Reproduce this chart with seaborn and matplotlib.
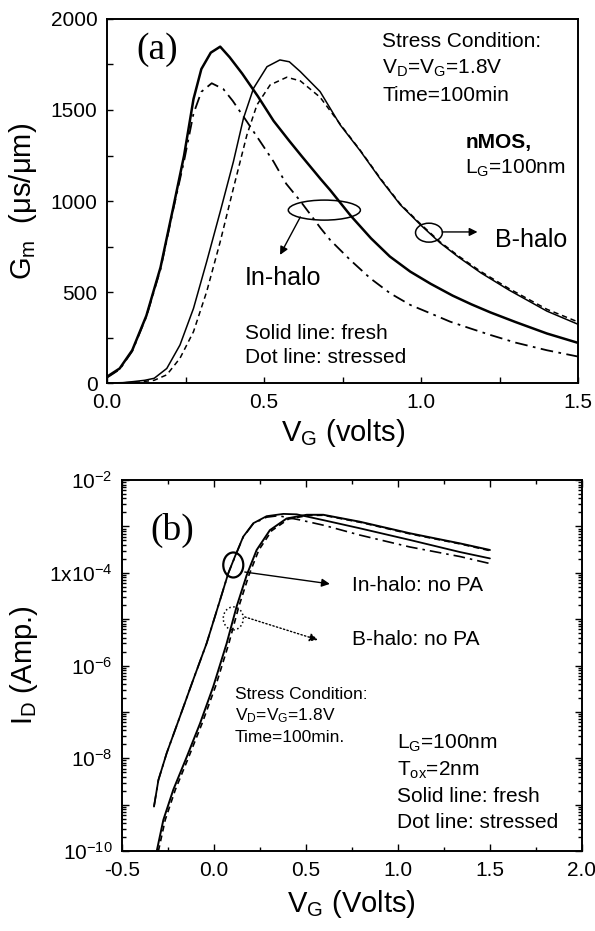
import numpy as np
import pandas as pd
import matplotlib
matplotlib.use("Agg")
import matplotlib.pyplot as plt
import seaborn as sns
from matplotlib.patches import Ellipse
from matplotlib.ticker import MultipleLocator, LogLocator, NullFormatter, FuncFormatter

# ---------------- Panel (a): Gm vs VG ----------------
vg_in_fresh = [0.0, 0.04, 0.08, 0.125, 0.17, 0.21, 0.245, 0.275, 0.3, 0.33, 0.36, 0.39, 0.43, 0.48,
               0.53, 0.58, 0.62, 0.68, 0.71, 0.775, 0.84, 0.9, 0.965, 1.03, 1.1, 1.16, 1.22, 1.3, 1.4, 1.5]
gm_in_fresh = [35, 80, 180, 370, 635, 960, 1250, 1560, 1725, 1815, 1848, 1790, 1700, 1575,
               1440, 1330, 1245, 1120, 1060, 920, 795, 695, 612, 545, 480, 432, 388, 335, 272, 220]

vg_in_stress = [0.0, 0.04, 0.08, 0.125, 0.17, 0.21, 0.245, 0.275, 0.3, 0.333, 0.37, 0.4, 0.445, 0.49,
                0.53, 0.57, 0.615, 0.68, 0.71, 0.774, 0.838, 0.901, 0.965, 1.029, 1.092, 1.156, 1.22,
                1.3, 1.4, 1.5]
gm_in_stress = [30, 75, 175, 365, 625, 950, 1220, 1480, 1600, 1647, 1615, 1550, 1436, 1320,
                1216, 1095, 1000, 850, 786, 676, 575, 493, 429, 383, 337, 300, 264,
                222, 180, 145]

vg_b_fresh = [0.0, 0.05, 0.085, 0.12, 0.15, 0.19, 0.232, 0.275, 0.317, 0.36, 0.402, 0.434, 0.466, 0.509,
              0.55, 0.58, 0.615, 0.678, 0.742, 0.806, 0.87, 0.933, 1.0, 1.06, 1.12, 1.19, 1.28, 1.4, 1.5]
gm_b_fresh = [0, 2, 8, 15, 26, 80, 209, 410, 667, 941, 1216, 1454, 1619, 1738,
              1775, 1765, 1711, 1601, 1418, 1275, 1120, 980, 865, 770, 690, 605, 510, 395, 322]

vg_b_stress = [0.0, 0.05, 0.1, 0.15, 0.19, 0.232, 0.275, 0.317, 0.36, 0.402, 0.445, 0.477, 0.519,
               0.572, 0.615, 0.678, 0.742, 0.806, 0.87, 0.933, 1.0, 1.06, 1.12, 1.19, 1.28, 1.4, 1.5]
gm_b_stress = [0, 1, 5, 15, 45, 136, 282, 502, 776, 1070, 1363, 1528, 1638,
               1680, 1660, 1570, 1422, 1278, 1124, 984, 870, 775, 696, 612, 518, 405, 335]

# ---------------- Panel (b): ID vs VG (log) ----------------
vg_id_in_fresh = [-0.326, -0.302, -0.257, -0.185, -0.113, -0.04, 0.033, 0.078, 0.114, 0.159, 0.214,
                  0.286, 0.377, 0.45, 0.6, 0.793, 1.065, 1.337, 1.5]
id_in_fresh = [9.1e-10, 3.4e-9, 1.29e-8, 7.9e-8, 4.9e-7, 3.0e-6, 2.57e-5, 9.8e-5, 2.24e-4, 6.0e-4, 1.17e-3,
               1.66e-3, 1.86e-3, 1.82e-3, 1.35e-3, 9.1e-4, 5.1e-4, 2.8e-4, 2.04e-4]

vg_id_in_stress = [-0.326, -0.302, -0.257, -0.185, -0.113, -0.04, 0.033, 0.078, 0.114, 0.159, 0.214,
                   0.286, 0.35, 0.467, 0.6, 0.793, 1.065, 1.337, 1.5]
id_in_stress = [9.1e-10, 3.4e-9, 1.29e-8, 7.9e-8, 4.9e-7, 3.0e-6, 2.57e-5, 9.8e-5, 2.2e-4, 5.9e-4, 1.15e-3,
                1.58e-3, 1.70e-3, 1.38e-3, 1.05e-3, 6.5e-4, 3.6e-4, 2.24e-4, 1.58e-4]

vg_id_b_fresh = [-0.311, -0.275, -0.221, -0.148, -0.076, -0.004, 0.069, 0.123, 0.178, 0.232, 0.304,
                 0.395, 0.504, 0.594, 0.793, 1.065, 1.337, 1.5]
id_b_fresh = [1.0e-10, 4.7e-10, 2.1e-9, 1.07e-8, 5.6e-8, 3.5e-7, 3.0e-6, 1.86e-5, 8.9e-5, 3.1e-4, 8.3e-4,
              1.48e-3, 1.78e-3, 1.78e-3, 1.26e-3, 7.1e-4, 4.3e-4, 3.1e-4]

vg_id_b_stress = [-0.302, -0.265, -0.21, -0.137, -0.065, 0.008, 0.081, 0.135, 0.19, 0.244, 0.314,
                  0.405, 0.51, 0.594, 0.793, 1.065, 1.337, 1.5]
id_b_stress = [1.0e-10, 4.7e-10, 2.1e-9, 1.07e-8, 5.6e-8, 3.5e-7, 3.0e-6, 1.86e-5, 8.9e-5, 3.1e-4, 8.1e-4,
               1.44e-3, 1.72e-3, 1.74e-3, 1.23e-3, 6.9e-4, 4.2e-4, 3.0e-4]

id_tick_vals = [1e-10, 1e-8, 1e-6, 1e-4, 1e-2]
id_tick_labels = [r"$10^{-10}$", r"$10^{-8}$", r"$10^{-6}$", r"$1\mathrm{x}10^{-4}$", r"$10^{-2}$"]

# ---------------- Style ----------------
sns.set_style("ticks")
plt.rcParams["font.family"] = ["Liberation Sans", "DejaVu Sans"]
plt.rcParams["mathtext.fontset"] = "custom"
plt.rcParams["mathtext.rm"] = "Liberation Sans"
plt.rcParams["mathtext.it"] = "Liberation Sans:italic"
plt.rcParams["mathtext.bf"] = "Liberation Sans:bold"
plt.rcParams["axes.unicode_minus"] = False
for key in ["text.color", "axes.labelcolor", "xtick.color", "ytick.color", "axes.edgecolor"]:
    plt.rcParams[key] = "black"

fig = plt.figure(figsize=(5.95, 9.31), dpi=100)
ax1 = fig.add_axes([0.180, 0.5886, 0.792, 0.391])
ax2 = fig.add_axes([0.205, 0.0859, 0.773, 0.3985])

dashdot = (0, (7, 3, 1.5, 3))
dashed = (0, (3.5, 2.5))

# Panel (a)
sns.lineplot(x=vg_in_fresh, y=gm_in_fresh, ax=ax1, color="black", lw=1.8)
sns.lineplot(x=vg_in_stress, y=gm_in_stress, ax=ax1, color="black", lw=1.3, linestyle=dashdot)
sns.lineplot(x=vg_b_fresh, y=gm_b_fresh, ax=ax1, color="black", lw=1.1)
sns.lineplot(x=vg_b_stress, y=gm_b_stress, ax=ax1, color="black", lw=1.1, linestyle=dashed)

ax1.set_xlim(0, 1.5)
ax1.set_ylim(0, 2000)
ax1.xaxis.set_major_locator(MultipleLocator(0.5))
ax1.xaxis.set_minor_locator(MultipleLocator(0.25))
ax1.yaxis.set_major_locator(MultipleLocator(500))
ax1.yaxis.set_minor_locator(MultipleLocator(250))
ax1.xaxis.set_major_formatter(FuncFormatter(lambda v, p: f"{v:.1f}"))
ax1.tick_params(which="both", direction="in", labelsize=15, width=1, pad=7)
ax1.tick_params(which="major", length=4)
ax1.tick_params(which="minor", length=4)
ax1.set_xlabel(r"V$_{\rm G}$ (volts)", fontsize=21, labelpad=4)
ax1.set_ylabel(r"G$_{\rm m}$  (μs/μm)", fontsize=21, labelpad=8)
for s in ax1.spines.values():
    s.set_linewidth(1.4)
    s.set_visible(True)

tk = dict(transform=ax1.transAxes, ha="left", va="center", fontsize=15)
ax1.text(0.062, 0.915, "(a)", transform=ax1.transAxes, ha="left", va="center",
         fontsize=27, family=["Liberation Serif", "DejaVu Serif"])
ax1.text(0.584, 0.937, "Stress Condition:", **tk)
ax1.text(0.584, 0.865, r"V$_{\rm D}$=V$_{\rm G}$=1.8V", **tk)
ax1.text(0.584, 0.791, "Time=100min", **tk)
ax1.text(0.760, 0.662, "nMOS,", fontweight="bold", **tk)
ax1.text(0.760, 0.591, r"L$_{\rm G}$=100nm", **tk)
ax1.text(0.293, 0.288, "In-halo", transform=ax1.transAxes, ha="left", va="center", fontsize=18)
ax1.text(0.824, 0.393, "B-halo", transform=ax1.transAxes, ha="left", va="center", fontsize=18)
ax1.text(0.293, 0.137, "Solid line: fresh", **tk)
ax1.text(0.293, 0.069, "Dot line: stressed", **tk)

ax1.add_patch(Ellipse((0.461, 0.475), 0.153, 0.055, transform=ax1.transAxes,
                      fill=False, lw=1.1, ec="black"))
ax1.add_patch(Ellipse((0.683, 0.413), 0.057, 0.052, transform=ax1.transAxes,
                      fill=False, lw=1.1, ec="black"))
arr = dict(arrowstyle="-|>", color="black", lw=1.0, mutation_scale=12, shrinkA=0, shrinkB=0)
ax1.annotate("", xy=(0.367, 0.352), xytext=(0.410, 0.456), xycoords="axes fraction",
             textcoords="axes fraction", arrowprops=arr)
ax1.annotate("", xy=(0.786, 0.415), xytext=(0.711, 0.415), xycoords="axes fraction",
             textcoords="axes fraction", arrowprops=arr)

# Panel (b)
ax2.set_yscale("log")
sns.lineplot(x=vg_id_in_fresh, y=id_in_fresh, ax=ax2, color="black", lw=1.3)
sns.lineplot(x=vg_id_in_stress, y=id_in_stress, ax=ax2, color="black", lw=1.2, linestyle=dashdot)
sns.lineplot(x=vg_id_b_fresh, y=id_b_fresh, ax=ax2, color="black", lw=1.4)
sns.lineplot(x=vg_id_b_stress, y=id_b_stress, ax=ax2, color="black", lw=1.2, linestyle=dashed)

ax2.set_xlim(-0.5, 2.0)
ax2.set_ylim(1e-10, 1e-2)
ax2.xaxis.set_major_locator(MultipleLocator(0.5))
ax2.xaxis.set_minor_locator(MultipleLocator(0.25))
ax2.xaxis.set_major_formatter(FuncFormatter(lambda v, p: f"{v:.1f}"))
ax2.yaxis.set_major_locator(LogLocator(base=10, numticks=20))
ax2.yaxis.set_minor_locator(LogLocator(base=10, subs=np.arange(2, 10), numticks=20))
ax2.yaxis.set_minor_formatter(NullFormatter())
lab_map = dict(zip([round(np.log10(v)) for v in id_tick_vals], id_tick_labels))
ax2.yaxis.set_major_formatter(FuncFormatter(lambda v, p: lab_map.get(round(np.log10(v)), "")))
ax2.tick_params(which="both", direction="in", labelsize=15, width=1, top=True, right=True, pad=7)
ax2.tick_params(which="major", length=5)
ax2.tick_params(which="minor", length=3)
ax2.set_xlabel(r"V$_{\rm G}$ (Volts)", fontsize=21, labelpad=6)
ax2.set_ylabel(r"I$_{\rm D}$ (Amp.)", fontsize=21, labelpad=6)
for s in ax2.spines.values():
    s.set_linewidth(1.4)
    s.set_visible(True)

tb = dict(transform=ax2.transAxes, ha="left", va="center", fontsize=15)
ax2.text(0.061, 0.865, "(b)", transform=ax2.transAxes, ha="left", va="center",
         fontsize=27, family=["Liberation Serif", "DejaVu Serif"])
ax2.text(0.5, 0.717, "In-halo: no PA", **tb)
ax2.text(0.5, 0.569, "B-halo: no PA", **tb)
ts = dict(transform=ax2.transAxes, ha="left", va="center", fontsize=12.5)
ax2.text(0.246, 0.423, "Stress Condition:", **ts)
ax2.text(0.246, 0.364, r"V$_{\rm D}$=V$_{\rm G}$=1.8V", **ts)
ax2.text(0.246, 0.305, "Time=100min.", **ts)
ax2.text(0.598, 0.291, r"L$_{\rm G}$=100nm", **tb)
ax2.text(0.598, 0.218, r"T$_{\rm ox}$=2nm", **tb)
ax2.text(0.598, 0.146, "Solid line: fresh", **tb)
ax2.text(0.598, 0.078, "Dot line: stressed", **tb)

ax2.add_patch(Ellipse((0.242, 0.771), 0.0435, 0.0674, transform=ax2.transAxes,
                      fill=False, lw=1.6, ec="black"))
ax2.add_patch(Ellipse((0.242, 0.627), 0.0435, 0.062, transform=ax2.transAxes,
                      fill=False, lw=1.1, ec="black", ls=":"))
ax2.annotate("", xy=(0.452, 0.720), xytext=(0.267, 0.752), xycoords="axes fraction",
             textcoords="axes fraction", arrowprops=arr)
arr_d = dict(arr)
arr_d["linestyle"] = ":"
ax2.annotate("", xy=(0.426, 0.569), xytext=(0.267, 0.631), xycoords="axes fraction",
             textcoords="axes fraction", arrowprops=arr_d)

fig.savefig("out.png", dpi=100)
